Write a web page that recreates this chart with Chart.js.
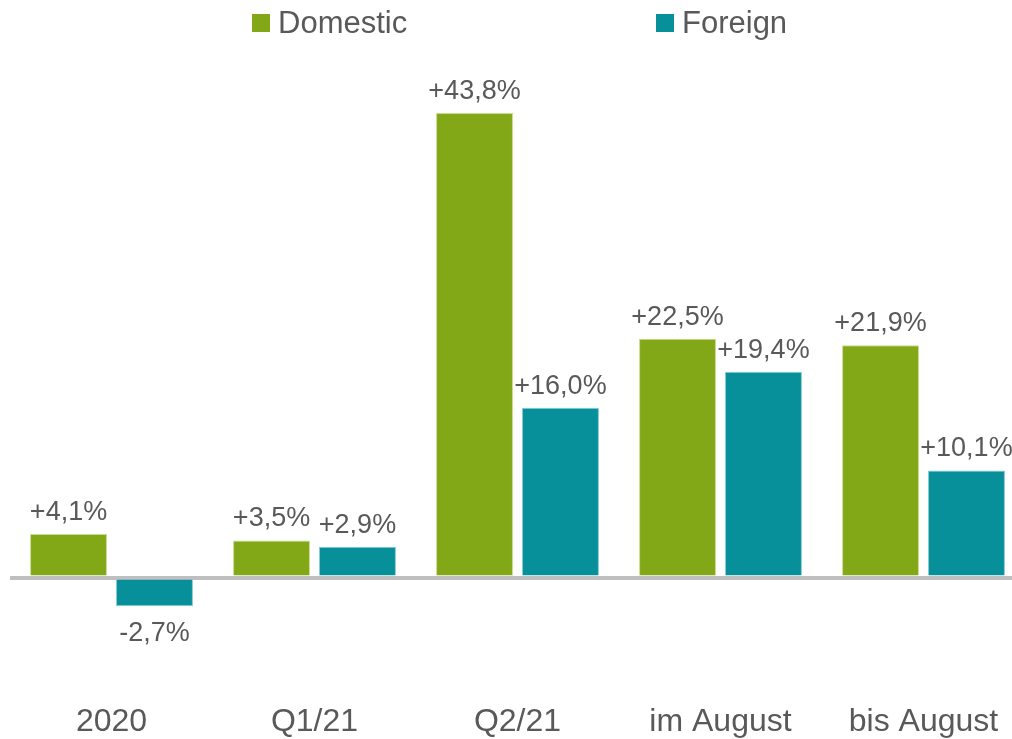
<!DOCTYPE html>
<html>
<head>
<meta charset="utf-8">
<script src="https://cdn.jsdelivr.net/npm/chart.js@4"></script>
<style>
    html, body { margin: 0; padding: 0; background: #fff; overflow: hidden; }
    #wrap { position: relative; width: 1025px; height: 739px; }
    #legend { position: absolute; top: 0; left: 0; width: 1012px; height: 46px; font-family: "Liberation Sans", Arial, sans-serif; font-size: 31px; color: #595959; }
    .item { position: absolute; top: 5px; line-height: 36px; }
    .box { display: inline-block; width: 18px; height: 18px; margin-right: 8px; vertical-align: 1px; }
</style>
</head>
<body>
<div id="wrap">
    <canvas id="chart" width="1025" height="739"></canvas>
    <div id="legend"></div>
</div>
<script>
const categories = ['2020', 'Q1/21', 'Q2/21', 'im August', 'bis August'];
const domestic = [4.1, 3.5, 43.8, 22.5, 21.9];
const foreign = [-2.7, 2.9, 16.0, 19.4, 10.1];
const seriesNames = ['Domestic', 'Foreign'];
const colors = ['#83A817', '#07909A'];
const borderColors = ['#C9DC8E', '#86CCD1'];
const textColor = '#595959';

// legend as plain html, the two items sit far apart
const legendPos = [252, 656];
const legend = document.getElementById('legend');
seriesNames.forEach(function(name, i) {
    const el = document.createElement('div');
    el.className = 'item';
    el.style.left = legendPos[i] + 'px';
    el.innerHTML = '<span class="box" style="background:' + colors[i] + '"></span>' + name;
    legend.appendChild(el);
});

function formatValue(v) {
    const s = Math.abs(v).toFixed(1).replace('.', ',');
    return (v >= 0 ? '+' : '-') + s + '%';
}

// value labels above / below each bar
const valueLabels = {
    id: 'valueLabels',
    afterDatasetsDraw(chart) {
        const ctx = chart.ctx;
        ctx.save();
        ctx.font = '27px "Liberation Sans", Arial, sans-serif';
        ctx.fillStyle = textColor;
        ctx.textAlign = 'center';
        chart.data.datasets.forEach(function(ds, di) {
            chart.getDatasetMeta(di).data.forEach(function(bar, i) {
                const v = ds.data[i];
                if (v >= 0) {
                    ctx.textBaseline = 'bottom';
                    ctx.fillText(formatValue(v), bar.x, bar.y - 8);
                } else {
                    ctx.textBaseline = 'top';
                    ctx.fillText(formatValue(v), bar.x, bar.y + 14);
                }
            });
        });
        ctx.restore();
    }
};

const ctx = document.getElementById('chart').getContext('2d');
new Chart(ctx, {
    type: 'bar',
    data: {
        labels: categories,
        datasets: [
            { label: seriesNames[0], data: domestic, backgroundColor: colors[0], borderColor: borderColors[0], borderWidth: 1 },
            { label: seriesNames[1], data: foreign, backgroundColor: colors[1], borderColor: borderColors[1], borderWidth: 1 }
        ]
    },
    options: {
        responsive: false,
        animation: false,
        categoryPercentage: 0.847,
        barPercentage: 0.895,
        layout: { padding: { left: 10, right: 0, top: 79, bottom: -21 } },
        plugins: {
            legend: { display: false },
            tooltip: { enabled: false }
        },
        scales: {
            x: {
                grid: { display: false, drawTicks: false },
                border: { display: false },
                ticks: {
                    color: textColor,
                    padding: 19,
                    font: { family: '"Liberation Sans", Arial, sans-serif', size: 32 }
                }
            },
            y: {
                display: true,
                min: -10,
                max: 47,
                border: { display: false },
                ticks: { display: false, stepSize: 10 },
                grid: {
                    drawTicks: false,
                    color: function(c) { return c.tick.value === 0 ? '#BFBFBF' : 'rgba(0,0,0,0)'; },
                    lineWidth: function(c) { return c.tick.value === 0 ? 4 : 0; }
                }
            }
        }
    },
    plugins: [valueLabels]
});
</script>
</body>
</html>
